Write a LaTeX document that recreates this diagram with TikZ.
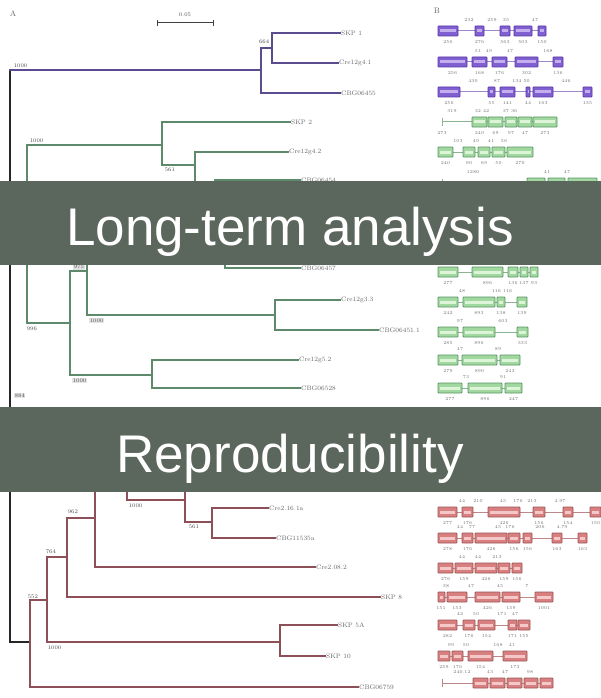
\documentclass[tikz,border=0pt]{standalone}
\usepackage{fontspec}
\newfontfamily\bannerfont{Liberation Sans}
\definecolor{bannercol}{HTML}{5B665C}
\definecolor{purpline}{HTML}{5A4C8E}
\definecolor{greenline}{HTML}{5E8A6C}
\definecolor{redline}{HTML}{8E5058}
\definecolor{purpfill}{HTML}{8060D0}
\definecolor{purpedge}{HTML}{5A38A8}
\definecolor{purplight}{HTML}{C4AEEE}
\definecolor{greenfill}{HTML}{A0D8A0}
\definecolor{greenedge}{HTML}{5A9462}
\definecolor{greenlight}{HTML}{DDF4D8}
\definecolor{redfill}{HTML}{D88080}
\definecolor{rededge}{HTML}{9E5458}
\definecolor{redlight}{HTML}{F4C8C8}
\tikzset{
  tl/.style={line width=1.6pt, line cap=rect},
  pl/.style={tl, draw=purpline},
  gl/.style={tl, draw=greenline},
  rl/.style={tl, draw=redline},
  kl/.style={tl, draw=black!85},
  leaf/.style={anchor=west, font=\fontsize{6.5}{7.5}\selectfont, text=black!60, inner sep=1pt},
  boot/.style={font=\fontsize{5.5}{6}\selectfont, text=black!70, inner sep=0.6pt},
  num/.style={font=\fontsize{4.5}{5}\selectfont, text=black!55, inner sep=0pt},
  lineP/.style={draw=purpedge!60, line width=1pt},
  lineG/.style={draw=greenedge!70, line width=1pt},
  lineR/.style={draw=rededge!70, line width=1pt},
  exonP/.style={draw=purpedge, fill=purpfill, line width=0.9pt, rounded corners=0.8pt},
  exonG/.style={draw=greenedge, fill=greenfill, line width=0.9pt, rounded corners=0.8pt},
  exonR/.style={draw=rededge, fill=redfill, line width=0.9pt, rounded corners=0.8pt},
  hlP/.style={fill=purplight},
  hlG/.style={fill=greenlight},
  hlR/.style={fill=redlight},
  bannerbox/.style={fill=bannercol},
  bannertext/.style={font=\bannerfont\fontsize{53}{60}\selectfont, text=white, anchor=base, inner sep=0pt}
}
% #1 y, #2 colour key, #3 intron segments s/e, #4 exons a/b/label
\newcommand\genrow[4]{%
  \foreach \s/\e in {#3} {\draw[line#2] (\s,#1) -- (\e,#1);}
  \foreach \a/\b/\l in {#4} {
    \draw[exon#2] (\a,#1-5) rectangle (\b,#1+5);
    \fill[hl#2] ({\a+2.4},#1-1.5) rectangle ({\b-2.4},#1+1.5);
    \node[num] at ({(\a+\b)/2},#1+11) {\l};
  }}
\newcommand\toplab[2]{\foreach \x/\l in {#2} {\node[num] at (\x,#1-11) {\l};}}
\newcommand\tbar[3]{\draw[line#3] (442,#1-4) -- (442,#1+4); \draw[line#3] (442,#1) -- (#2,#1);}
\begin{document}
\begin{tikzpicture}[x=1pt,y=-1pt]
\useasboundingbox (0,0) rectangle (601,698);
\fill[white] (0,0) rectangle (601,698);

% headings and scale bar
\node[font=\fontsize{8}{9}\selectfont, text=black!60] (A) at (13,14) {A};
\node[font=\fontsize{8}{9}\selectfont, text=black!60] (B) at (437,11) {B};
\coordinate (s1) at (157,23); \coordinate (s2) at (213,23);
\draw[line width=1pt, black!75] (s1) -- (s2);
\draw[line width=1pt, black!75] (157,20) -- (157,26) (213,20) -- (213,26);
\node[boot] (sc) at (185,15) {0.05};

% root
\draw[kl] (10,70) -- (10,642) -- (30,642);

% purple clade
\draw[pl] (10,70) -- (261,70);
\draw[pl] (261,48) -- (261,93);
\draw[pl] (261,48) -- (272,48);
\draw[pl] (272,33) -- (272,63);
\draw[pl] (272,33) -- (340,33);
\draw[pl] (272,63) -- (338,63);
\draw[pl] (261,93) -- (340,93);
\node[leaf] (skp1) at (340,33) {SKP 1};
\node[leaf] (cre41) at (338,63) {Cre12g4.1};
\node[leaf] (cbg55) at (340,93) {CBG06455};
\node[boot, anchor=south west] (b1) at (13,68) {1000};
\node[boot, anchor=east] (b2) at (270,42) {664};

% green clade
\draw[gl] (10,234) -- (27,234);
\draw[gl] (27,145) -- (27,323);
\draw[gl] (27,145) -- (162,145);
\draw[gl] (162,122) -- (162,165);
\draw[gl] (162,122) -- (290,122);
\draw[gl] (162,165) -- (195,165);
\draw[gl] (195,152) -- (195,190);
\draw[gl] (195,152) -- (288,152);
\draw[gl] (195,190) -- (215,190);
\draw[gl] (215,180) -- (215,200);
\draw[gl] (215,180) -- (300,180);
\node[leaf] (skp2) at (290,122) {SKP 2};
\node[leaf] (cre42) at (288,152) {Cre12g4.2};
\node[leaf] (cbg54) at (300,180) {CBG06454};
\node[boot, anchor=south west] (b3) at (29,143) {1000};
\node[boot, anchor=north west] (b4) at (164,167) {561};

\draw[gl] (27,323) -- (70,323);
\draw[gl] (70,271) -- (70,375);
\draw[gl] (70,271) -- (87,271);
\draw[gl] (87,227) -- (87,315);
\draw[gl] (87,227) -- (225,227);
\draw[gl] (225,200) -- (225,268);
\draw[gl] (225,268) -- (300,268);
\draw[gl] (87,315) -- (275,315);
\draw[gl] (275,300) -- (275,330);
\draw[gl] (275,300) -- (340,300);
\draw[gl] (275,330) -- (378,330);
\draw[gl] (70,375) -- (152,375);
\draw[gl] (152,360) -- (152,388);
\draw[gl] (152,360) -- (298,360);
\draw[gl] (152,388) -- (300,388);
\node[leaf] (cbg57) at (300,268) {CBG06457};
\node[leaf] (cre33) at (340,300) {Cre12g3.3};
\node[leaf] (cbg51) at (378,330) {CBG06451.1};
\node[leaf] (cre52) at (298,360) {Cre12g5.2};
\node[leaf] (cbg28) at (300,388) {CBG06528};
\node[boot, fill=black!12] (b5) at (79,267) {975};
\node[boot, anchor=north west, fill=black!10] (b6) at (89,318) {1000};
\node[boot, anchor=north west] (b7) at (26,326) {996};
\node[boot, anchor=north west, fill=black!10] (b8) at (72,378) {1000};
\node[boot, anchor=north west, fill=black!10] (b9) at (14,393) {884};

% red clade
\draw[rl] (30,600) -- (30,687);
\draw[rl] (30,600) -- (47,600);
\draw[rl] (30,687) -- (358,687);
\draw[rl] (47,557) -- (47,642);
\draw[rl] (47,557) -- (67,557);
\draw[rl] (47,642) -- (280,642);
\draw[rl] (280,625) -- (280,656);
\draw[rl] (280,625) -- (337,625);
\draw[rl] (280,656) -- (325,656);
\draw[rl] (67,518) -- (67,597);
\draw[rl] (67,518) -- (95,518);
\draw[rl] (67,597) -- (380,597);
\draw[rl] (95,469) -- (95,567);
\draw[rl] (95,567) -- (315,567);
\draw[rl] (95,469) -- (127,469);
\draw[rl] (127,438) -- (127,500);
\draw[rl] (127,438) -- (250,438);
\draw[rl] (127,500) -- (185,500);
\draw[rl] (185,478) -- (185,522);
\draw[rl] (185,478) -- (260,478);
\draw[rl] (185,522) -- (212,522);
\draw[rl] (212,508) -- (212,538);
\draw[rl] (212,508) -- (268,508);
\draw[rl] (212,538) -- (275,538);
\node[leaf] (cre16) at (268,508) {Cre2.16.1a};
\node[leaf] (cbg35) at (275,538) {CBG11535a};
\node[leaf] (cre08) at (315,567) {Cre2.08.2};
\node[leaf] (skp8) at (380,597) {SKP 8};
\node[leaf] (skp5) at (337,625) {SKP 5A};
\node[leaf] (skp10) at (325,656) {SKP 10};
\node[leaf] (cbg59) at (358,687) {CBG06759};
\node[boot, anchor=north west] (b10) at (128,503) {1000};
\node[boot, anchor=north west] (b11) at (188,524) {561};
\node[boot, anchor=south west] (b12) at (67,514) {962};
\node[boot, anchor=south west] (b13) at (45,554) {764};
\node[boot, anchor=south west] (b14) at (27,599) {552};
\node[boot, anchor=north west] (b15) at (47,645) {1000};

% gene structures (B)
\genrow{31}{P}{438/545}{438/458/256, 475/484/276, 500/510/563, 514/532/503, 538/546/150}
\toplab{31}{469/232, 492/259, 506/35, 535/47}
\genrow{62}{P}{438/563}{438/467/256, 472/487/168, 492/507/176, 515/538/302, 553/563/136}
\toplab{62}{478/51, 489/49, 510/47, 548/168}
\genrow{92}{P}{438/592}{438/460/256, 488/495/55, 500/515/141, 526/530/44, 533/553/163, 583/592/135}
\toplab{92}{473/430, 497/87, 521/134 50, 566/446}
\tbar{122}{472}{G}
\genrow{122}{G}{472/557}{472/487/240, 488/503/69, 505/517/97, 518/532/47, 533/557/273}
\node[num] at (442,133) {273};
\toplab{122}{452/319, 482/32 42, 510/37 36}
\genrow{152}{G}{438/533}{438/453/240, 463/475/90, 478/490/69, 492/505/50, 507/533/270}
\toplab{152}{458/103, 476/49, 491/41, 504/56}
\tbar{183}{527}{G}
\genrow{183}{G}{527/597}{527/545/, 548/565/, 568/597/}
\toplab{183}{473/1280, 547/41, 567/47}
\genrow{272}{G}{438/538}{438/458/277, 472/503/896, 508/518/136, 520/528/137, 530/538/93}
\genrow{302}{G}{438/527}{438/458/242, 463/495/893, 497/505/138, 517/527/139}
\toplab{302}{462/48, 502/116 116}
\genrow{332}{G}{438/528}{438/458/285, 463/495/896, 517/528/333}
\toplab{332}{460/97, 503/603}
\genrow{360}{G}{438/520}{438/458/279, 462/497/890, 500/520/243}
\toplab{360}{460/47, 498/89}
\genrow{388}{G}{438/522}{438/462/277, 468/502/896, 505/522/247}
\toplab{388}{466/73, 503/91}
\genrow{512}{R}{438/601}{438/457/277, 462/473/176, 488/520/426, 533/545/156, 563/573/154, 590/601/150}
\toplab{512}{462/44, 478/210, 503/45, 518/176, 532/213, 560/4.97}
\genrow{538}{R}{438/587}{438/457/278, 462/473/176, 475/507/426, 508/520/156, 523/532/156, 552/562/163, 578/587/163}
\toplab{538}{460/44, 472/77, 498/45, 510/176, 540/206, 562/4.79}
\genrow{568}{R}{438/522}{438/453/276, 455/473/159, 475/497/426, 498/510/159, 512/522/156}
\toplab{568}{462/44, 478/44, 497/213}
\genrow{597}{R}{438/553}{438/445/, 447/467/153, 475/500/426, 502/520/159, 535/553/1001}
\node[num] at (441,608) {151};
\toplab{597}{446/38, 471/47, 500/45, 527/7}
\genrow{625}{R}{438/530}{438/457/282, 463/475/176, 478/495/154, 508/517/171, 518/530/155}
\toplab{625}{460/42, 476/50, 502/171, 515/47}
\genrow{656}{R}{438/527}{438/450/259, 452/463/176, 468/493/154, 503/527/173}
\toplab{656}{451/99, 466/50, 498/168, 512/41}
\tbar{683}{473}{R}
\genrow{683}{R}{473/553}{473/488/, 490/505/, 507/522/, 524/538/, 540/553/}
\toplab{683}{462/240.12, 490/43, 505/47, 530/98}

% banners
\fill[bannerbox] (0,181) rectangle (601,265);
\node[bannertext] (t1) at (290,245) {Long-term analysis};
\fill[bannerbox] (0,407) rectangle (601,492);
\node[bannertext] (t2) at (290,472) {Reproducibility};
\end{tikzpicture}
\end{document}
